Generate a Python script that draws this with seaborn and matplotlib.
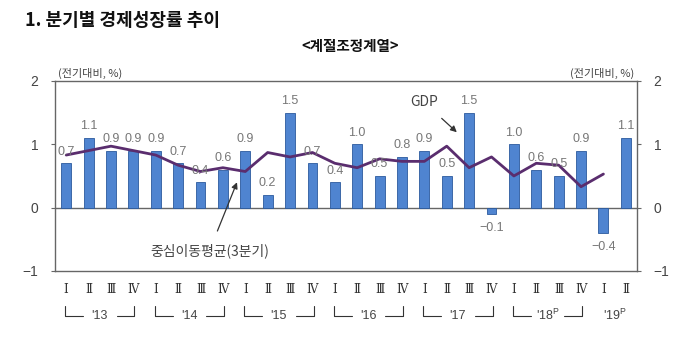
import matplotlib
matplotlib.use("Agg")
import matplotlib.pyplot as plt
import matplotlib.transforms as mtransforms
import seaborn as sns
import pandas as pd

# Quarterly real GDP growth (q/q, seasonally adjusted), 2013 Q1 - 2019 Q2
quarters = ["Ⅰ", "Ⅱ", "Ⅲ", "Ⅳ"] * 6 + ["Ⅰ", "Ⅱ"]
gdp_growth = [0.7, 1.1, 0.9, 0.9, 0.9, 0.7, 0.4, 0.6, 0.9, 0.2, 1.5, 0.7,
              0.4, 1.0, 0.5, 0.8, 0.9, 0.5, 1.5, -0.1, 1.0, 0.6, 0.5, 0.9,
              -0.4, 1.1]
# Centred 3-quarter moving average, 2013 Q1 - 2019 Q1
moving_avg = [0.83, 0.90, 0.97, 0.90, 0.83, 0.67, 0.57, 0.63, 0.57, 0.87,
              0.80, 0.87, 0.70, 0.63, 0.77, 0.73, 0.73, 0.97, 0.63, 0.80,
              0.50, 0.70, 0.67, 0.33, 0.53]
years = ["'13", "'14", "'15", "'16", "'17", "'18$^\\mathregular{P}$", "'19$^\\mathregular{P}$"]

sns.set_style("white")
plt.rcParams["font.family"] = ["Noto Sans CJK KR", "DejaVu Sans"]
plt.rcParams["axes.unicode_minus"] = True

num_font = ["Liberation Sans", "DejaVu Sans"]
bar_color = "#4F84D0"
line_color = "#5A2D6E"

df = pd.DataFrame({"pos": range(len(gdp_growth)), "growth": gdp_growth})
ma_df = pd.DataFrame({"pos": range(len(moving_avg)), "ma": moving_avg})

fig = plt.figure(figsize=(7, 3.4), dpi=100)
ax = fig.add_axes([0.0786, 0.203, 0.8314, 0.559])

sns.barplot(data=df, x="pos", y="growth", ax=ax, color=bar_color,
            width=0.44, edgecolor="#2B5A9E", linewidth=0.6, saturation=1)
sns.lineplot(data=ma_df, x="pos", y="ma", ax=ax, color=line_color,
             linewidth=2.0)

ax.axhline(0, color="#666666", linewidth=1.0, zorder=0.5)
ax.set_xlim(-0.5, len(gdp_growth) - 0.5)
ax.set_ylim(-1, 2)
ax.set_yticks([-1, 0, 1, 2])
ax.set_yticklabels(["\u22121", "0", "1", "2"], family=num_font)
ax.set_xlabel("")
ax.set_ylabel("")
ax.set_xticks(range(len(quarters)))
ax.set_xticklabels(quarters, family=["DejaVu Serif", "Noto Sans CJK KR"],
                   fontsize=8.5, color="#333333")
ax.tick_params(axis="x", length=0, pad=9)
ax.tick_params(axis="y", labelright=True, right=True, left=True, length=3,
               width=0.8, colors="#666666", labelcolor="#444444",
               labelsize=10, pad=9)
for s in ax.spines.values():
    s.set_color("#666666")
    s.set_linewidth(1.0)

# value labels
for i, v in enumerate(gdp_growth):
    if v >= 0:
        ax.text(i, v + 0.09, f"{v:.1f}", ha="center", va="bottom",
                fontsize=9, color="#777777", family=num_font)
    else:
        ax.text(i, v - 0.12, f"\u2212{abs(v):.1f}", ha="center", va="top",
                fontsize=9, color="#777777", family=num_font)

# unit labels
ax.text(0.005, 1.01, "(전기대비, %)", transform=ax.transAxes, ha="left",
        va="bottom", fontsize=8, color="#444444")
ax.text(0.995, 1.01, "(전기대비, %)", transform=ax.transAxes, ha="right",
        va="bottom", fontsize=8, color="#444444")

# annotations
ax.annotate("GDP", xy=(17.45, 1.19), xytext=(16.0, 1.66), ha="center",
            va="center", fontsize=10, color="#444444",
            arrowprops=dict(arrowstyle="-|>", color="#333333", lw=0.9,
                            shrinkA=6, shrinkB=0, mutation_scale=9))
ax.annotate("중심이동평균(3분기)", xy=(7.63, 0.40), xytext=(6.4, -0.68),
            ha="center", va="center", fontsize=10, color="#444444",
            arrowprops=dict(arrowstyle="-|>", color="#333333", lw=0.9,
                            shrinkA=7, shrinkB=0, mutation_scale=9))

# year brackets below the quarter labels
trans = mtransforms.blended_transform_factory(ax.transData, ax.transAxes)
y_br = -0.235
for k, yr in enumerate(years):
    start = 4 * k
    if k < 6:
        mid = start + 1.5
        ax.text(mid, y_br, yr, transform=trans, ha="center", va="center",
                fontsize=9, color="#444444", family=num_font)
        x0, x1 = start - 0.05, start + 3.05
        ax.plot([x0, x0, mid - 0.75], [y_br + 0.05, y_br, y_br],
                transform=trans, color="#333333", lw=0.8, clip_on=False)
        ax.plot([mid + 0.75, x1, x1], [y_br, y_br, y_br + 0.05],
                transform=trans, color="#333333", lw=0.8, clip_on=False)
    else:
        ax.text(start + 0.5, y_br, yr, transform=trans, ha="center",
                va="center", fontsize=9, color="#444444", family=num_font)

# titles
fig.text(0.035, 0.94, "1. 분기별 경제성장률 추이", ha="left", va="center",
         fontsize=13, fontweight="bold", color="#111111")
fig.text(0.5, 0.865, "<계절조정계열>", ha="center", va="center",
         fontsize=10.5, fontweight="bold", color="#111111")

fig.savefig("out.png", dpi=100)
